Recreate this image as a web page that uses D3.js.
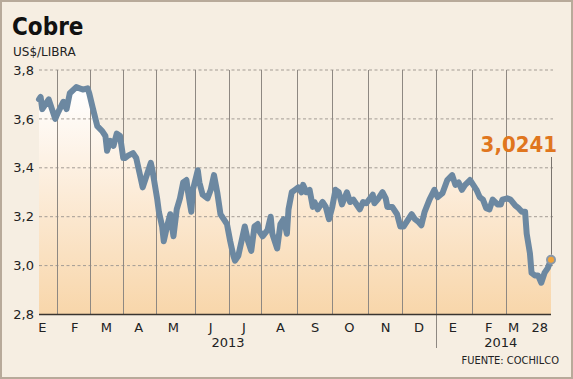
<!DOCTYPE html>
<html><head><meta charset="utf-8">
<script src="https://cdn.jsdelivr.net/npm/d3@7"></script>
<style>body{margin:0;background:#f6eee2}svg{display:block}</style>
</head><body><svg id="c" width="573" height="379"></svg>
<script>
// ---- data ----
const days = [0,1,2,6,10,12,15,17,19,23,27,30,31,33,36,39,41,42,44,46,48,50,52,53,55,58,60,62,64,67,69,70,73,74,76,77,79,81,83,85,87,89,91,92,94,95,98,99,101,104,106,108,110,112,114,116,118,120,121,123,125,127,129,131,133,135,136,138,141,143,144,147,149,151,153,154,156,158,160,162,163,165,167,169,170,172,175,177,179,181,183,185,187,190,192,194,196,198,200,202,206,207,209,212,214,215,218,221,223,225,227,230,232,234,236,238,241,244,246,249,252,255,257,259,261,263,266,268,270,272,274,276,278,280,283,285,286,289,291,294,296,298,300,301,303,304,306,308,310,312,314,316];
const prices = [3.68,3.69,3.64,3.68,3.60,3.63,3.67,3.64,3.705,3.73,3.72,3.725,3.705,3.65,3.57,3.55,3.53,3.47,3.51,3.49,3.54,3.53,3.44,3.44,3.45,3.46,3.44,3.38,3.32,3.38,3.42,3.39,3.27,3.22,3.16,3.10,3.16,3.21,3.12,3.23,3.275,3.34,3.35,3.30,3.22,3.31,3.39,3.34,3.29,3.275,3.31,3.37,3.30,3.21,3.19,3.17,3.10,3.04,3.02,3.04,3.10,3.16,3.10,3.06,3.16,3.17,3.14,3.12,3.145,3.20,3.13,3.07,3.17,3.19,3.13,3.23,3.30,3.31,3.32,3.30,3.33,3.30,3.31,3.24,3.26,3.23,3.26,3.24,3.19,3.24,3.31,3.30,3.25,3.30,3.26,3.27,3.25,3.23,3.26,3.255,3.29,3.255,3.27,3.30,3.275,3.24,3.24,3.21,3.16,3.16,3.18,3.21,3.19,3.18,3.165,3.22,3.27,3.31,3.28,3.296,3.35,3.37,3.33,3.34,3.31,3.33,3.35,3.33,3.31,3.28,3.27,3.235,3.23,3.27,3.25,3.25,3.27,3.275,3.27,3.245,3.235,3.22,3.22,3.13,3.05,2.97,2.96,2.96,2.93,2.97,2.99,3.0241];
const monthStarts = [11,31.5,52,72,96,117,137,159,181,203,224,245,267,288];
const monthLabels = ["E","F","M","A","M","J","J","A","S","O","N","D","E","F","M","28"];
const monthLabelDays = [2,22,41.5,61.5,83,106,126.5,149,170.5,191.5,214,234.5,255.5,277.5,293,309];
const yearLabels = ["2013","2014"];
const yearLabelDays = [116.7,285];
const yearDivider = 245;
const yTicks = [2.8,3.0,3.2,3.4,3.6,3.8];
const titleText = "Cobre";
const unitText = "US$/LIBRA";
const sourceText = "FUENTE: COCHILCO";

// ---- chart ----
const svg = d3.select("#c");
const x = d3.scaleLinear().domain([0,316]).range([39,551]);
const y = d3.scaleLinear().domain([2.8,3.8]).range([314.5,70]);
const comma = s => s.replace(".", ",");
const pts = days.map((d,i)=>[d,prices[i]]);
const lineCol = "#6c88a1";

svg.append("rect").attr("x",1).attr("y",1).attr("width",571).attr("height",377)
  .attr("fill","#f6eee2").attr("stroke","#b8aa9a").attr("stroke-width",2);

const defs = svg.append("defs");
const g = defs.append("linearGradient").attr("id","ag").attr("gradientUnits","userSpaceOnUse")
  .attr("x1",0).attr("x2",0).attr("y1",y(3.72)).attr("y2",y(2.8));
g.append("stop").attr("offset",0).attr("stop-color","#ffffff");
g.append("stop").attr("offset",0.45).attr("stop-color","#fcecd9");
g.append("stop").attr("offset",1).attr("stop-color","#f8d6aa");

svg.append("path").datum(pts)
  .attr("d", d3.area().x(d=>x(d[0])).y0(y(2.8)).y1(d=>y(d[1])))
  .attr("fill","url(#ag)");

// horizontal dashed grid
svg.append("g").selectAll("line").data(yTicks.filter(t=>t>2.8)).join("line")
  .attr("x1",x(0)).attr("x2",x(316)+2).attr("y1",d=>y(d)).attr("y2",d=>y(d))
  .attr("stroke","#a39c94").attr("stroke-width",1).attr("stroke-dasharray","3,2.5");

// vertical month grid
svg.append("g").selectAll("line").data(monthStarts).join("line")
  .attr("x1",d=>Math.round(x(d))+0.5).attr("x2",d=>Math.round(x(d))+0.5)
  .attr("y1",y(3.8)).attr("y2",d=> d===yearDivider ? 348 : y(2.8))
  .attr("stroke","#8e8882").attr("stroke-width",1);

// baseline
svg.append("line").attr("x1",x(0)).attr("x2",x(316)).attr("y1",y(2.8)).attr("y2",y(2.8))
  .attr("stroke","#3a3530").attr("stroke-width",1.5);

// line
svg.append("path").datum(pts)
  .attr("d", d3.line().x(d=>x(d[0])).y(d=>y(d[1])))
  .attr("fill","none").attr("stroke",lineCol).attr("stroke-width",6)
  .attr("stroke-linejoin","round").attr("stroke-linecap","round");

// last value marker
const last = pts[pts.length-1];
svg.append("line").attr("x1",x(last[0])+0.5).attr("x2",x(last[0])+0.5)
  .attr("y1",157).attr("y2",y(last[1])-5).attr("stroke","#7a746e").attr("stroke-width",1);
svg.append("circle").attr("cx",x(last[0])).attr("cy",y(last[1])).attr("r",4)
  .attr("fill","#f2a43a").attr("stroke","#8a98a8").attr("stroke-width",2);
svg.append("text").attr("x",x(last[0])+6).attr("y",152).attr("text-anchor","end")
  .attr("font-family","'DejaVu Sans Condensed','DejaVu Sans',sans-serif").attr("font-stretch","condensed")
  .attr("font-weight","bold").attr("font-size",22).attr("fill","#e0761e")
  .text(comma(d3.format(".4f")(last[1])));

// y axis labels
const yAxis = d3.axisLeft(y).tickValues(yTicks).tickSize(0).tickPadding(0)
  .tickFormat(d=>comma(d3.format(".1f")(d)));
const ya = svg.append("g").attr("transform","translate(34,0)").call(yAxis);
ya.select(".domain").remove();
ya.selectAll("text").attr("font-family","'DejaVu Sans',sans-serif").attr("font-size",13)
  .attr("fill","#222").attr("dy","0.32em");

// month labels
svg.append("g").selectAll("text").data(monthLabels).join("text")
  .attr("x",(d,i)=>x(monthLabelDays[i])).attr("y",332).attr("text-anchor","middle")
  .attr("font-family","'DejaVu Sans',sans-serif").attr("font-size",13).attr("fill","#222")
  .text(d=>d);
svg.append("g").selectAll("text").data(yearLabels).join("text")
  .attr("x",(d,i)=>x(yearLabelDays[i])).attr("y",347).attr("text-anchor","middle")
  .attr("font-family","'DejaVu Sans',sans-serif").attr("font-size",13).attr("fill","#222")
  .text(d=>d);

// titles
svg.append("text").attr("x",12).attr("y",35)
  .attr("font-family","'DejaVu Sans Condensed','DejaVu Sans',sans-serif").attr("font-stretch","condensed")
  .attr("font-weight","bold").attr("font-size",24).attr("fill","#111").text(titleText);
svg.append("text").attr("x",13).attr("y",55.5)
  .attr("font-family","'DejaVu Sans',sans-serif").attr("font-size",12).attr("fill","#222").text(unitText);
svg.append("text").attr("x",559).attr("y",364).attr("text-anchor","end")
  .attr("font-family","'DejaVu Sans Condensed','DejaVu Sans',sans-serif").attr("font-stretch","condensed")
  .attr("font-size",11).attr("fill","#222").text(sourceText);
</script></body></html>
